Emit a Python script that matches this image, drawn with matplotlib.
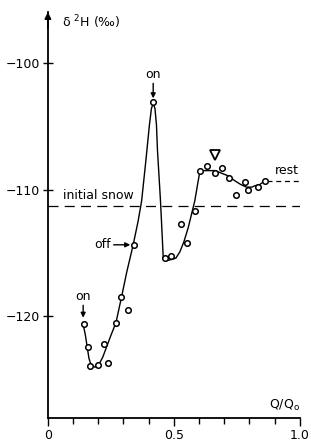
"""Deuterium content of meltwater versus relative discharge."""
import matplotlib.pyplot as plt
from matplotlib.ticker import MultipleLocator

# observed samples (Q/Qo, delta 2H in permil)
q_obs = [0.143, 0.159, 0.169, 0.198, 0.222, 0.238, 0.270, 0.292, 0.317, 0.342,
         0.418, 0.463, 0.489, 0.528, 0.554, 0.585, 0.603, 0.632, 0.662, 0.693,
         0.718, 0.746, 0.782, 0.796, 0.835, 0.862]
d_obs = [-120.6, -122.4, -123.9, -123.8, -122.2, -123.7, -120.5, -118.5, -119.5, -114.4,
         -103.1, -115.4, -115.2, -112.7, -114.2, -111.7, -108.5, -108.1, -108.7, -108.3,
         -109.1, -110.4, -109.4, -110.0, -109.8, -109.3]

# hand-drawn smooth curve, traced
q_fit = [0.140, 0.149, 0.156, 0.163, 0.171, 0.187, 0.202, 0.218, 0.233, 0.250,
         0.270, 0.292, 0.313, 0.338, 0.358, 0.372, 0.389, 0.403, 0.411, 0.418,
         0.425, 0.431, 0.435, 0.447, 0.458, 0.472, 0.492, 0.508, 0.524, 0.540,
         0.557, 0.583, 0.595, 0.603, 0.619, 0.636, 0.663, 0.689, 0.714, 0.742,
         0.766, 0.788, 0.810, 0.821, 0.841, 0.861]
d_fit = [-120.6, -121.5, -122.4, -123.3, -123.8, -124.0, -123.8, -123.2, -122.4, -121.5,
         -120.5, -118.5, -116.5, -114.4, -112.5, -110.9, -107.7, -104.9, -103.6, -103.2,
         -103.6, -104.9, -106.9, -110.9, -115.4, -115.6, -115.5, -115.4, -114.9, -114.1,
         -113.0, -110.9, -109.5, -108.6, -108.5, -108.5, -108.5, -108.7, -108.9, -109.3,
         -109.6, -109.8, -109.8, -109.7, -109.6, -109.3]

initial_snow = -111.3
rest_level = -109.3
rest_span = [0.87, 1.0]
triangle = (0.665, -107.3)

y_ticks = [-100, -110, -120]
y_labels = ["\u2212100", "\u2212110", "\u2212120"]
x_ticks = [0, 0.5, 1.0]
x_labels = ["0", "0.5", "1.0"]

plt.rcParams["font.family"] = ["DejaVu Sans"]
plt.rcParams["font.size"] = 9

fig = plt.figure(figsize=(3.11, 4.47), dpi=100)
ax = fig.add_axes([0.154, 0.065, 0.810, 0.908])

ax.plot(q_fit, d_fit, color="black", lw=1.0)
ax.plot(q_obs, d_obs, "o", mfc="white", mec="black", ms=4, mew=1.1, zorder=5)
ax.plot(*triangle, "v", mfc="white", mec="black", ms=7, mew=1.3, zorder=5)

ax.axhline(initial_snow, color="black", lw=0.9, dashes=(8, 5))
ax.plot(rest_span, [rest_level, rest_level], color="black", lw=0.9, dashes=(4, 3))

ax.text(0.20, -111.0, "initial snow", ha="center", va="bottom")
ax.text(0.95, -109.0, "rest", ha="center", va="bottom")

arrow = dict(arrowstyle="-|>", color="black", lw=1.0,
             mutation_scale=7, shrinkA=0, shrinkB=0)
ax.annotate("on", xy=(0.418, -102.8), xytext=(0.418, -101.4),
            ha="center", va="bottom", arrowprops=arrow)
ax.annotate("on", xy=(0.140, -120.1), xytext=(0.140, -118.9),
            ha="center", va="bottom", arrowprops=arrow)
ax.annotate("off", xy=(0.327, -114.35), xytext=(0.25, -114.35),
            ha="right", va="center", arrowprops=arrow)

ax.set_xlim(0, 1.0)
ax.set_ylim(-128, -96)
ax.set_xticks(x_ticks)
ax.set_xticklabels(x_labels)
ax.xaxis.set_minor_locator(MultipleLocator(0.1))
ax.set_yticks(y_ticks)
ax.set_yticklabels(y_labels)

for side in ("top", "right"):
    ax.spines[side].set_visible(False)
for side in ("left", "bottom"):
    ax.spines[side].set_linewidth(1.3)

ax.tick_params(axis="y", direction="inout", length=7, width=1.0, pad=2)
ax.tick_params(axis="x", which="major", direction="out", length=6, width=1.0, pad=2)
ax.tick_params(axis="x", which="minor", direction="out", length=4, width=1.0)

# arrow head at the top of the y axis
ax.annotate("", xy=(0, 1.0), xytext=(0, 0.96), xycoords="axes fraction",
            arrowprops=dict(arrowstyle="-|>", color="black", lw=1.3,
                            mutation_scale=9, shrinkA=0, shrinkB=0))

ax.text(0.056, -96.8, "\u03b4 $^2$H (\u2030)", ha="left", va="center")
ax.text(1.0, -127.0, "Q/Q$_\\mathrm{o}$", ha="right", va="center")

fig.savefig("out.png", dpi=100)
